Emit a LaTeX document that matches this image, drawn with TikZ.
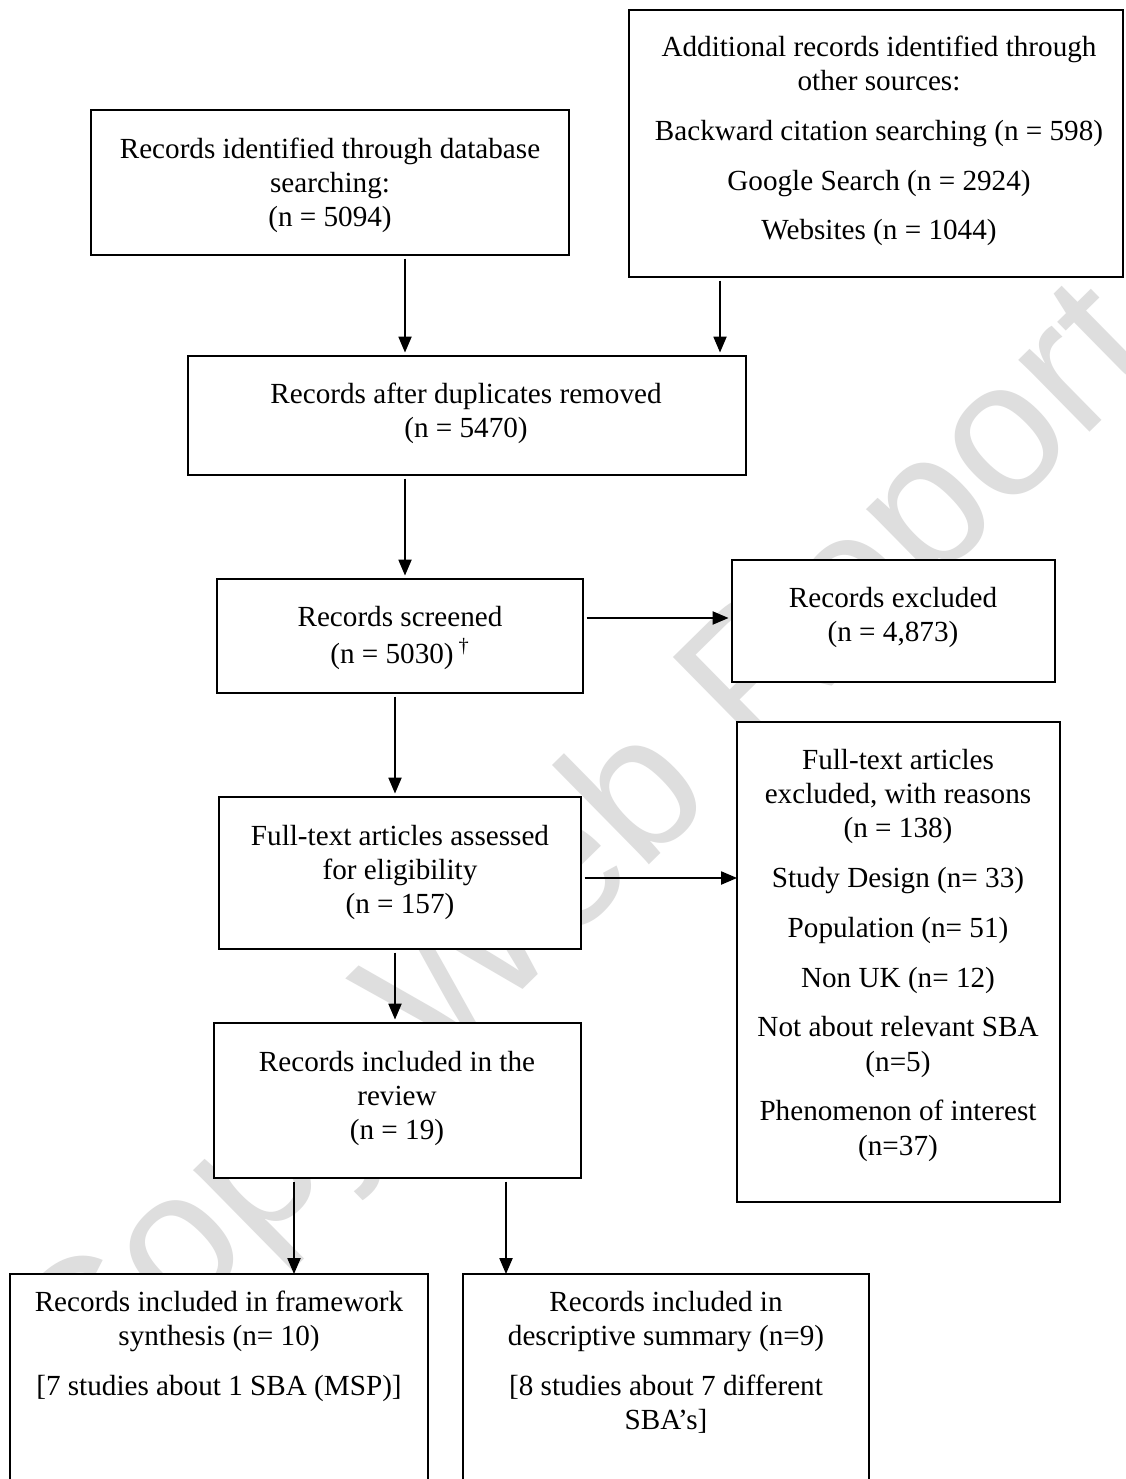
\documentclass[tikz,border=0pt]{standalone}
\usepackage{fontspec}
\setmainfont{Liberation Serif}
\newfontfamily\wmfont{Liberation Sans}
\usetikzlibrary{arrows.meta,fit}
\begin{document}
\begin{tikzpicture}[x=0.02cm,y=-0.02cm,
  box/.style={draw,fill=white,line width=0.9pt,inner sep=0pt,outer sep=0pt},
  txt/.style={align=center,anchor=north,inner sep=0pt,font=\fontsize{16.6}{19.4}\selectfont},
  arr/.style={line width=0.7pt,-{Triangle[length=9pt,width=7.5pt]},shorten <=2pt,shorten >=2pt},
  wm/.style={text=black!13,font=\wmfont\fontsize{109}{109}\selectfont,rotate=44.5,inner sep=0pt}]
\useasboundingbox (0,0) rectangle (1125,1479);
\clip (0,0) rectangle (1125,1479);
\fill[white] (0,0) rectangle (1125,1479);

% watermark
\node[wm] (water) at (588,856) {Copy Web Report};

% boxes
\node[box,fit={(91,110)(569,255)}] (A) {};
\node[box,fit={(629,10)(1123,277)}] (B) {};
\node[box,fit={(188,356)(746,475)}] (C) {};
\node[box,fit={(217,579)(583,693)}] (D) {};
\node[box,fit={(732,560)(1055,682)}] (E) {};
\node[box,fit={(219,797)(581,949)}] (F) {};
\node[box,fit={(737,722)(1060,1202)}] (G) {};
\node[box,fit={(214,1023)(581,1178)}] (H) {};
\node[box,fit={(10,1274)(428,1520)}] (I) {};
\node[box,fit={(463,1274)(869,1520)}] (J) {};

% texts
\node[txt] (tA) at (330,134) {\strut Records identified through database\\searching:\\(n = 5094)};
\node[txt] (tB) at (879,32) {\strut Additional records identified through\\other sources:\\[9pt]Backward citation searching (n = 598)\\[9pt]Google Search (n = 2924)\\[9pt]Websites (n = 1044)};
\node[txt] (tC) at (466,379) {\strut Records after duplicates removed\\(n = 5470)};
\node[txt] (tD) at (400,602) {\strut Records screened\\(n = 5030)\,\textsuperscript{\textdagger}};
\node[txt] (tE) at (893,583) {\strut Records excluded\\(n = 4,873)};
\node[txt] (tF) at (400,821) {\strut Full-text articles assessed\\for eligibility\\(n = 157)};
\node[txt] (tG) at (898,745) {\strut Full-text articles\\excluded, with reasons\\(n = 138)\\[9pt]Study Design (n= 33)\\[9pt]Population (n= 51)\\[9pt]Non UK (n= 12)\\[9pt]Not about relevant SBA\\(n=5)\\[9pt]Phenomenon of interest\\(n=37)};
\node[txt] (tH) at (397,1047) {\strut Records included in the\\review\\(n = 19)};
\node[txt] (tI) at (219,1287) {\strut Records included in framework\\synthesis (n= 10)\\[9pt][7 studies about 1 SBA (MSP)]};
\node[txt] (tJ) at (666,1287) {\strut Records included in\\descriptive summary (n=9)\\[9pt][8 studies about 7 different\\SBA’s]};

% arrow guide coordinates
\coordinate (xac) at (405,0);
\coordinate (xbc) at (720,0);
\coordinate (xdf) at (395,0);
\coordinate (xhi) at (294,0);
\coordinate (xhj) at (506,0);
\coordinate (yde) at (0,618);
\coordinate (yfg) at (0,878);

% connectors
\draw[arr] (A.south -| xac) -- (C.north -| xac);
\draw[arr] (B.south -| xbc) -- (C.north -| xbc);
\draw[arr] (C.south -| xac) -- (D.north -| xac);
\draw[arr] (D.east |- yde) -- (E.west |- yde);
\draw[arr] (D.south -| xdf) -- (F.north -| xdf);
\draw[arr,shorten >=0pt] (F.east |- yfg) -- (G.west |- yfg);
\draw[arr] (F.south -| xdf) -- (H.north -| xdf);
\draw[arr,shorten >=0pt] (H.south -| xhi) -- (I.north -| xhi);
\draw[arr,shorten >=0pt] (H.south -| xhj) -- (J.north -| xhj);
\end{tikzpicture}
\end{document}
